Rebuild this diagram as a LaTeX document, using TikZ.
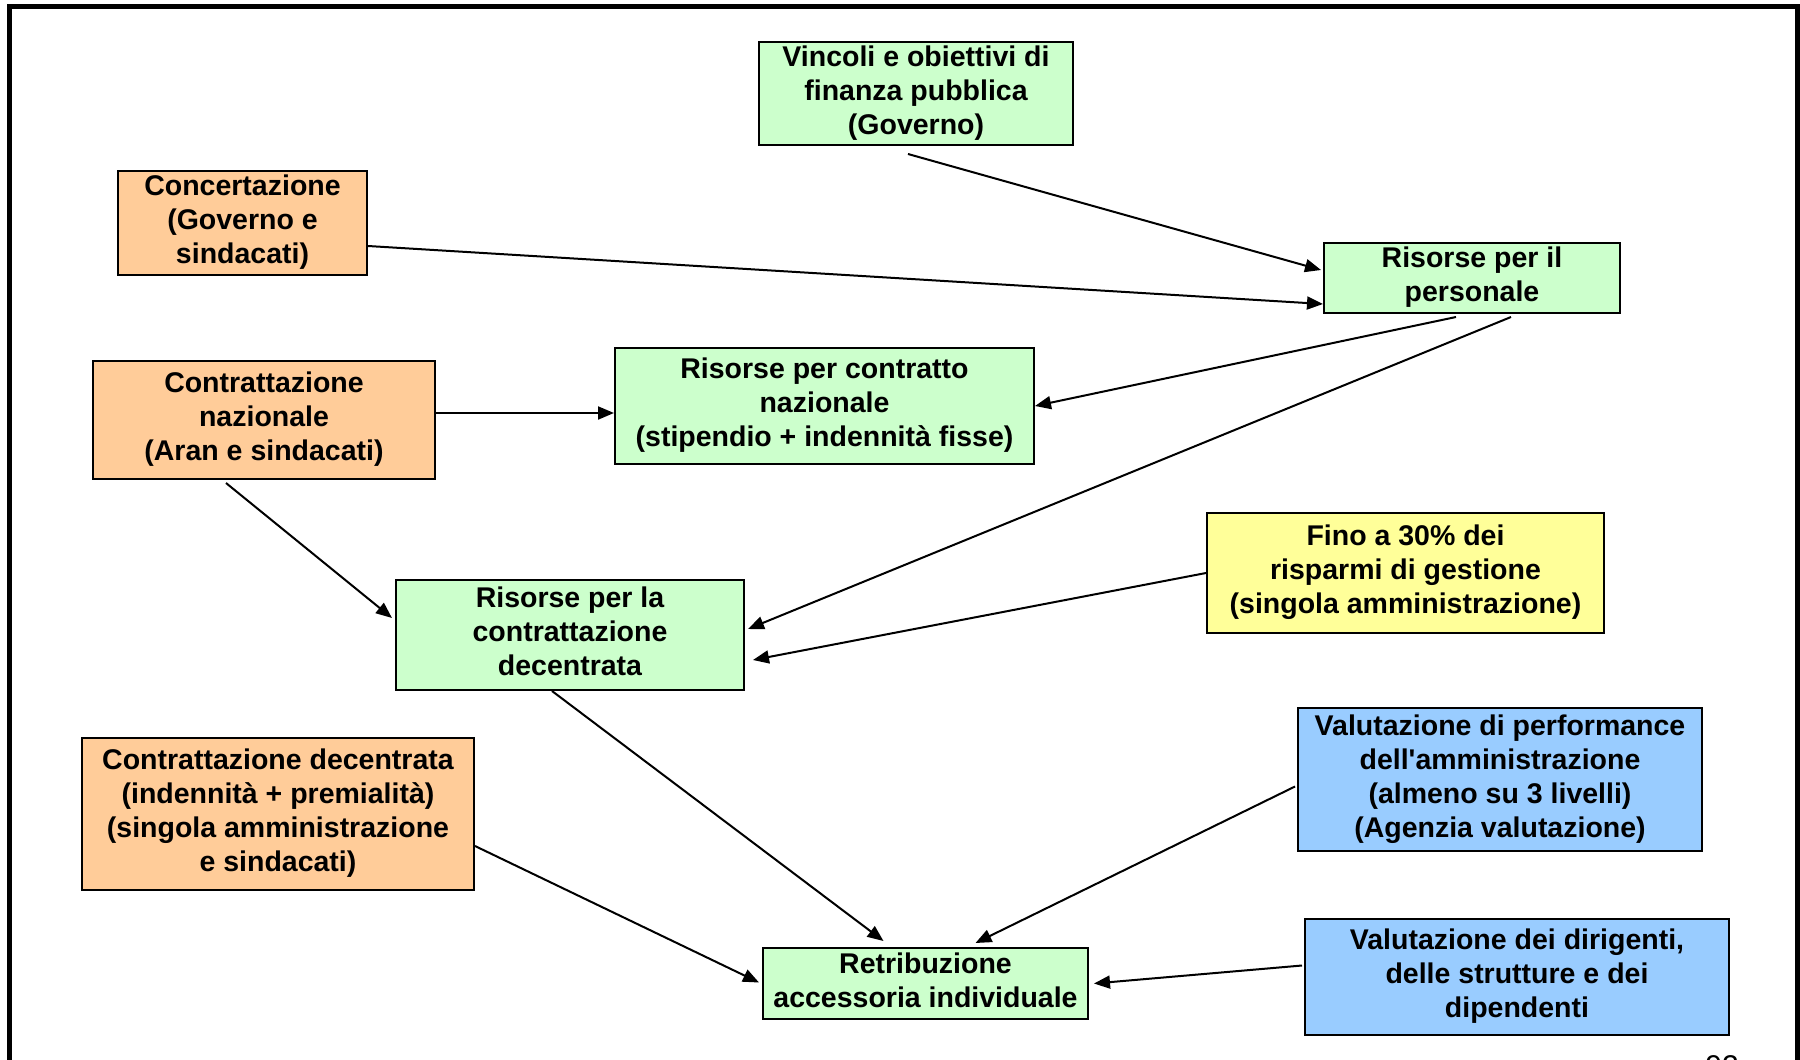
\documentclass[tikz,border=0pt]{standalone}
\usepackage{fontspec}
\setmainfont{Liberation Sans}
\usetikzlibrary{arrows.meta}
\definecolor{bgreen}{HTML}{CCFFCC}
\definecolor{borange}{HTML}{FFCC99}
\definecolor{byellow}{HTML}{FFFF99}
\definecolor{bblue}{HTML}{99CCFF}
\newcommand{\boxtext}[2]{\raisebox{#1}{\begin{tabular}{@{}c@{}}#2\end{tabular}}}
\tikzset{
  box/.style={draw=black, line width=2pt, inner sep=0pt,
    font=\bfseries\fontsize{28.5}{34}\selectfont},
  arr/.style={line width=2pt, -{Triangle[length=16pt,width=13pt]}},
}
\begin{document}
\begin{tikzpicture}[x=1pt,y=-1pt]
\useasboundingbox (0,0) rectangle (1800,1060);
\clip (0,0) rectangle (1800,1060);
\fill[white] (0,0) rectangle (1800,1060);
\draw[line width=5pt] (9.5,1080) -- (9.5,6) -- (1797.5,6) -- (1797.5,1080);

\node[box, fill=bgreen, minimum width=314pt, minimum height=103pt] (vinc) at (916,93.5)
  {\boxtext{0pt}{Vincoli e obiettivi di\\finanza pubblica\\(Governo)}};
\node[box, fill=borange, minimum width=249pt, minimum height=104pt] (conc) at (242.5,223)
  {\boxtext{0pt}{Concertazione\\(Governo e\\sindacati)}};
\node[box, fill=bgreen, minimum width=296pt, minimum height=70pt] (rpers) at (1472,278)
  {\boxtext{0pt}{Risorse per il\\personale}};
\node[box, fill=borange, minimum width=342pt, minimum height=118pt] (cnaz) at (264,420)
  {\boxtext{7pt}{Contrattazione\\nazionale\\(Aran e sindacati)}};
\node[box, fill=bgreen, minimum width=419pt, minimum height=116pt] (rcnaz) at (824.5,406)
  {\boxtext{4pt}{Risorse per contratto\\nazionale\\(stipendio + indennità fisse)}};
\node[box, fill=byellow, minimum width=397pt, minimum height=120pt] (fino) at (1405.5,573)
  {\boxtext{4.5pt}{Fino a 30\% dei\\risparmi di gestione\\(singola amministrazione)}};
\node[box, fill=bgreen, minimum width=348pt, minimum height=110pt] (rdec) at (570,635)
  {\boxtext{4.5pt}{Risorse per la\\contrattazione\\decentrata}};
\node[box, fill=borange, minimum width=392pt, minimum height=152pt] (cdec) at (278,814)
  {\boxtext{5.5pt}{Contrattazione decentrata\\(indennità + premialità)\\(singola amministrazione\\e sindacati)}};
\node[box, fill=bblue, minimum width=404pt, minimum height=143pt] (vperf) at (1500,779.5)
  {\boxtext{1pt}{Valutazione di performance\\dell\textquotesingle amministrazione\\(almeno su 3 livelli)\\(Agenzia valutazione)}};
\node[box, fill=bgreen, minimum width=325pt, minimum height=71pt] (retr) at (925.5,983.5)
  {\boxtext{2pt}{Retribuzione\\accessoria individuale}};
\node[box, fill=bblue, minimum width=424pt, minimum height=116pt] (vdir) at (1517,976.5)
  {\boxtext{4.5pt}{Valutazione dei dirigenti,\\delle strutture e dei\\dipendenti}};
\node[font=\fontsize{30}{36}\selectfont, anchor=base] (pg) at (1722,1076) {92};

\draw[arr] ([xshift=-8pt,yshift=-8pt]vinc.south) -- ([xshift=-2pt,yshift=8pt]rpers.west);
\draw[arr] ([yshift=-23pt]conc.east) -- ([yshift=-26pt]rpers.west);
\draw[arr] ([xshift=-16pt,yshift=-3pt]rpers.south) -- (rcnaz.east);
\draw[arr] ([xshift=39pt,yshift=-3pt]rpers.south) -- ([xshift=3pt,yshift=6pt]rdec.east);
\draw[arr] ([yshift=7pt]cnaz.east) -- ([yshift=-7pt]rcnaz.west);
\draw[arr] ([xshift=-38pt,yshift=-3pt]cnaz.south) -- ([xshift=-3pt,yshift=17pt]rdec.west);
\draw[arr] (fino.west) -- ([xshift=8pt,yshift=-25pt]rdec.east);
\draw[arr] ([xshift=-18pt]rdec.south) -- ([xshift=-42pt,yshift=6pt]retr.north);
\draw[arr] ([yshift=-32pt]cdec.east) -- ([xshift=-3pt,yshift=1pt]retr.west);
\draw[arr] ([xshift=-2pt,yshift=-7pt]vperf.west) -- ([xshift=50pt,yshift=4pt]retr.north);
\draw[arr] ([xshift=-2pt,yshift=11pt]vdir.west) -- ([xshift=5pt]retr.east);
\end{tikzpicture}
\end{document}
